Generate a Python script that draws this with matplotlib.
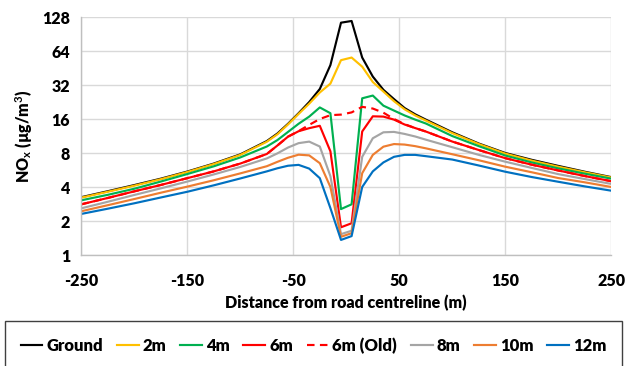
import matplotlib
matplotlib.use("Agg")
import matplotlib.pyplot as plt
from matplotlib.patches import Rectangle
from matplotlib.ticker import FixedLocator, FixedFormatter, NullLocator

plt.rcParams['font.family'] = ['Lato', 'DejaVu Sans']
plt.rcParams['mathtext.fontset'] = 'custom'
plt.rcParams['mathtext.rm'] = 'Lato:bold'
plt.rcParams['mathtext.bf'] = 'Lato:bold'
plt.rcParams['mathtext.default'] = 'bf'

# Daten
dist = [-250, -225, -200, -175, -150, -125, -100, -75, -65, -55, -45, -35, -25, -15, -5,
        5, 15, 25, 35, 45, 55, 65, 75, 100, 125, 150, 175, 200, 225, 250]

ground = [3.25, 3.67, 4.16, 4.74, 5.48, 6.45, 7.78, 10.2, 11.9, 14.5, 18.0, 22.6, 29.5, 48, 114,
          118, 56, 38, 29, 24, 20, 17.6, 15.8, 12.2, 9.7, 8.0, 6.96, 6.15, 5.46, 4.89]
m2 = [3.22, 3.63, 4.11, 4.69, 5.43, 6.39, 7.70, 10.06, 11.71, 14.32, 17.75, 21.86, 27.47, 32.9, 53.1,
      56, 46.5, 34, 28, 23, 19.5, 17.2, 15.5, 12.0, 9.6, 7.9, 6.85, 6.05, 5.4, 4.85]
m4 = [3.05, 3.41, 3.86, 4.47, 5.21, 6.10, 7.31, 9.13, 10.41, 12.29, 14.52, 16.80, 20.25, 18.0, 2.55,
      2.81, 24.4, 25.8, 21.0, 19.0, 17.2, 15.8, 14.6, 11.3, 9.2, 7.6, 6.6, 5.85, 5.25, 4.74]
m6 = [2.81, 3.20, 3.66, 4.17, 4.79, 5.50, 6.45, 7.84, 9.32, 11.16, 12.47, 13.27, 13.93, 8.28, 1.76,
      1.91, 12.4, 16.9, 16.8, 15.8, 14.3, 13.3, 12.4, 10.1, 8.5, 7.2, 6.3, 5.6, 5.0, 4.5]
m6_old = [2.81, 3.20, 3.66, 4.17, 4.79, 5.50, 6.45, 7.84, 9.32, 11.16, 12.5, 14.2, 16.0, 17.3, 17.5,
          18.3, 20.5, 19.8, 18.2, 16.0, 14.4, 13.3, 12.4, 10.1, 8.5, 7.2, 6.3, 5.6, 5.0, 4.5]
m8 = [2.59, 2.96, 3.40, 3.89, 4.47, 5.17, 6.02, 7.16, 7.94, 8.94, 9.78, 10.09, 9.13, 4.99, 1.53,
      1.64, 7.4, 10.8, 12.2, 12.3, 11.8, 11.2, 10.5, 9.0, 7.7, 6.7, 5.9, 5.2, 4.7, 4.26]
m10 = [2.44, 2.76, 3.13, 3.56, 4.03, 4.59, 5.28, 6.11, 6.68, 7.26, 7.73, 7.62, 6.50, 4.0, 1.45,
       1.56, 5.3, 7.7, 9.1, 9.6, 9.5, 9.2, 8.8, 7.8, 6.9, 6.05, 5.4, 4.8, 4.4, 4.0]
m12 = [2.31, 2.57, 2.87, 3.23, 3.63, 4.14, 4.76, 5.50, 5.86, 6.17, 6.28, 5.82, 4.79, 2.60, 1.36,
       1.47, 4.0, 5.5, 6.6, 7.4, 7.7, 7.7, 7.5, 7.0, 6.2, 5.46, 4.9, 4.45, 4.05, 3.71]

serien = [
    ('Ground', ground, '#000000', '-'),
    ('2m', m2, '#FFC000', '-'),
    ('4m', m4, '#00B050', '-'),
    ('6m', m6, '#FF0000', '-'),
    ('6m (Old)', m6_old, '#FF0000', '--'),
    ('8m', m8, '#A5A5A5', '-'),
    ('10m', m10, '#ED7D31', '-'),
    ('12m', m12, '#0070C0', '-'),
]

y_ticks = [1, 2, 4, 8, 16, 32, 64, 128]
x_ticks = [-250, -150, -50, 50, 150, 250]

fig = plt.figure(figsize=(6.27, 3.66), dpi=100)
ax = fig.add_axes([81.3 / 627, 1 - 255 / 366, 530 / 627, 238 / 366])

for name, werte, farbe, stil in serien:
    if stil == '--':
        ax.plot(dist, werte, color=farbe, lw=1.55, dashes=(3.5, 2.5), label=name)
    else:
        ax.plot(dist, werte, color=farbe, lw=1.55, ls=stil, label=name)

ax.set_yscale('log', base=2)
ax.set_ylim(1, 128)
ax.set_xlim(-250, 250)
ax.yaxis.set_major_locator(FixedLocator(y_ticks))
ax.yaxis.set_major_formatter(FixedFormatter([str(v) for v in y_ticks]))
ax.yaxis.set_minor_locator(NullLocator())
ax.set_xticks(x_ticks)
ax.set_xticklabels([str(v) for v in x_ticks])

ax.grid(True, color='#D9D9D9', lw=1.0)
ax.set_axisbelow(True)
for s in ['top', 'right']:
    ax.spines[s].set_visible(False)
for s in ['left', 'bottom']:
    ax.spines[s].set_color('#BFBFBF')
    ax.spines[s].set_linewidth(1.0)
ax.tick_params(axis='y', length=0, labelsize=11.5, pad=8)
ax.tick_params(axis='x', length=0, labelsize=11.5, pad=13)
for lab in ax.get_xticklabels() + ax.get_yticklabels():
    lab.set_fontweight('heavy')

ax.set_xlabel('Distance from road centreline (m)', fontsize=11.5,
              fontweight='heavy', labelpad=4)
ax.set_ylabel(r'NO$_x$ (µg/m$^3$)', fontsize=11.5, fontweight='heavy',
              labelpad=6)

# Legendenrahmen
fig.patches.append(Rectangle((5 / 627, -0.05), 617 / 627, 0.05 + 45 / 366,
                             transform=fig.transFigure, fill=False,
                             edgecolor='#404040', lw=1.0))
fig.legend(loc='center', bbox_to_anchor=(0.5, 1 - 346 / 366), ncol=8,
           frameon=False, handlelength=1.3, handletextpad=0.25,
           columnspacing=0.82, prop={'weight': 'heavy', 'size': 12})

fig.savefig('out.png', dpi=100)
